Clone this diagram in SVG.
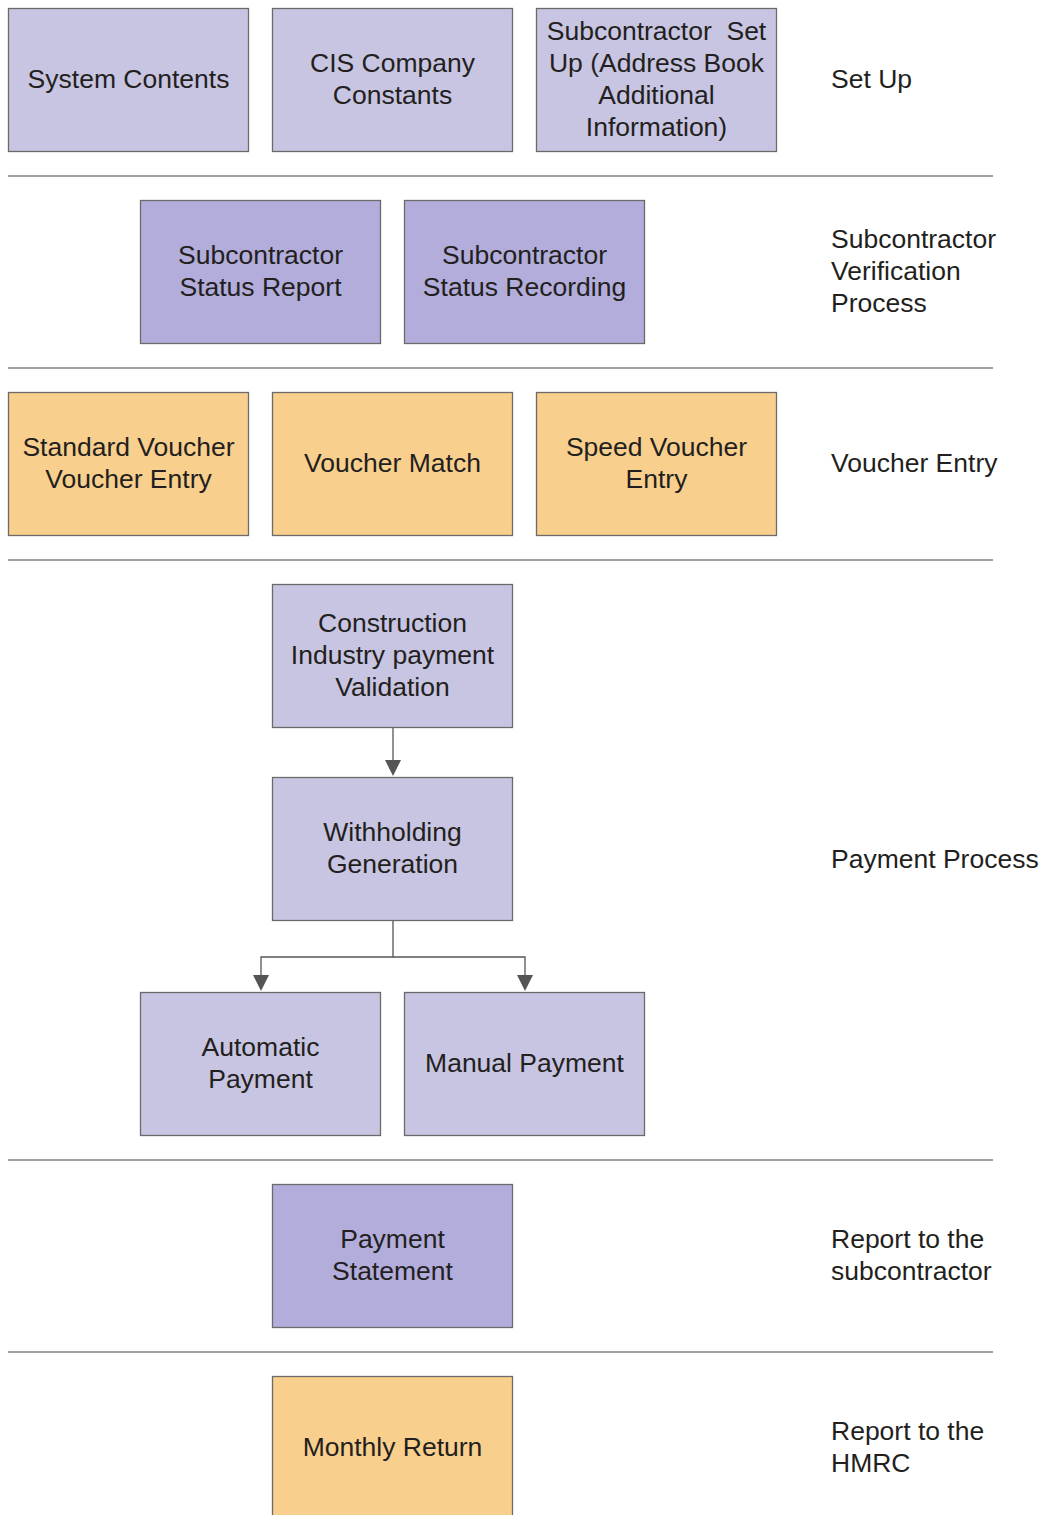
<svg xmlns="http://www.w3.org/2000/svg" width="1044" height="1515" viewBox="0 0 1044 1515">
<style>
.n rect{stroke:#6a6a6a;stroke-width:1.3}
.lp{fill:#c8c5e2}
.dp{fill:#b2addb}
.or{fill:#f9cf8d}
text{font-family:"Liberation Sans",Arial,sans-serif;font-size:26.5px;fill:#231f20}
.c{text-anchor:middle}
.sep{stroke:#808080;stroke-width:1.3}
.con path{fill:none;stroke:#555;stroke-width:1.3}
</style>
<g id="separators">
<line class="sep" x1="8" y1="176" x2="993" y2="176"/>
<line class="sep" x1="8" y1="368" x2="993" y2="368"/>
<line class="sep" x1="8" y1="560" x2="993" y2="560"/>
<line class="sep" x1="8" y1="1160" x2="993" y2="1160"/>
<line class="sep" x1="8" y1="1352" x2="993" y2="1352"/>
</g>
<g id="section-labels">
<text x="831" y="88">Set Up</text>
<text x="831" y="248">Subcontractor</text>
<text x="831" y="280">Verification</text>
<text x="831" y="312">Process</text>
<text x="831" y="472">Voucher Entry</text>
<text x="831" y="868">Payment Process</text>
<text x="831" y="1248">Report to the</text>
<text x="831" y="1280">subcontractor</text>
<text x="831" y="1440">Report to the</text>
<text x="831" y="1472">HMRC</text>
</g>
<g class="con" id="connectors">
<path d="M393,728 V762"/>
<path d="M393,921 V957 H261 V977"/>
<path d="M393,957 H525 V977"/>
<polygon points="385,760 401,760 393,776" fill="#555"/>
<polygon points="253,975 269,975 261,991" fill="#555"/>
<polygon points="517,975 533,975 525,991" fill="#555"/>
</g>
<g class="n" id="system-contents"><rect class="lp" x="8.5" y="8.5" width="240" height="143"/><text class="c" x="128.5" y="88">System Contents</text></g>
<g class="n" id="cis-company-constants"><rect class="lp" x="272.5" y="8.5" width="240" height="143"/><text class="c" x="392.5" y="72">CIS Company</text><text class="c" x="392.5" y="104">Constants</text></g>
<g class="n" id="subcontractor-setup"><rect class="lp" x="536.5" y="8.5" width="240" height="143"/><text class="c" x="656.5" y="40" xml:space="preserve">Subcontractor  Set</text><text class="c" x="656.5" y="72">Up (Address Book</text><text class="c" x="656.5" y="104">Additional</text><text class="c" x="656.5" y="136">Information)</text></g>
<g class="n" id="status-report"><rect class="dp" x="140.5" y="200.5" width="240" height="143"/><text class="c" x="260.5" y="264">Subcontractor</text><text class="c" x="260.5" y="296">Status Report</text></g>
<g class="n" id="status-recording"><rect class="dp" x="404.5" y="200.5" width="240" height="143"/><text class="c" x="524.5" y="264">Subcontractor</text><text class="c" x="524.5" y="296">Status Recording</text></g>
<g class="n" id="standard-voucher"><rect class="or" x="8.5" y="392.5" width="240" height="143"/><text class="c" x="128.5" y="456">Standard Voucher</text><text class="c" x="128.5" y="488">Voucher Entry</text></g>
<g class="n" id="voucher-match"><rect class="or" x="272.5" y="392.5" width="240" height="143"/><text class="c" x="392.5" y="472">Voucher Match</text></g>
<g class="n" id="speed-voucher"><rect class="or" x="536.5" y="392.5" width="240" height="143"/><text class="c" x="656.5" y="456">Speed Voucher</text><text class="c" x="656.5" y="488">Entry</text></g>
<g class="n" id="cip-validation"><rect class="lp" x="272.5" y="584.5" width="240" height="143"/><text class="c" x="392.5" y="632">Construction</text><text class="c" x="392.5" y="664">Industry payment</text><text class="c" x="392.5" y="696">Validation</text></g>
<g class="n" id="withholding-generation"><rect class="lp" x="272.5" y="777.5" width="240" height="143"/><text class="c" x="392.5" y="841">Withholding</text><text class="c" x="392.5" y="873">Generation</text></g>
<g class="n" id="automatic-payment"><rect class="lp" x="140.5" y="992.5" width="240" height="143"/><text class="c" x="260.5" y="1056">Automatic</text><text class="c" x="260.5" y="1088">Payment</text></g>
<g class="n" id="manual-payment"><rect class="lp" x="404.5" y="992.5" width="240" height="143"/><text class="c" x="524.5" y="1072">Manual Payment</text></g>
<g class="n" id="payment-statement"><rect class="dp" x="272.5" y="1184.5" width="240" height="143"/><text class="c" x="392.5" y="1248">Payment</text><text class="c" x="392.5" y="1280">Statement</text></g>
<g class="n" id="monthly-return"><rect class="or" x="272.5" y="1376.5" width="240" height="150"/><text class="c" x="392.5" y="1456">Monthly Return</text></g>
</svg>
